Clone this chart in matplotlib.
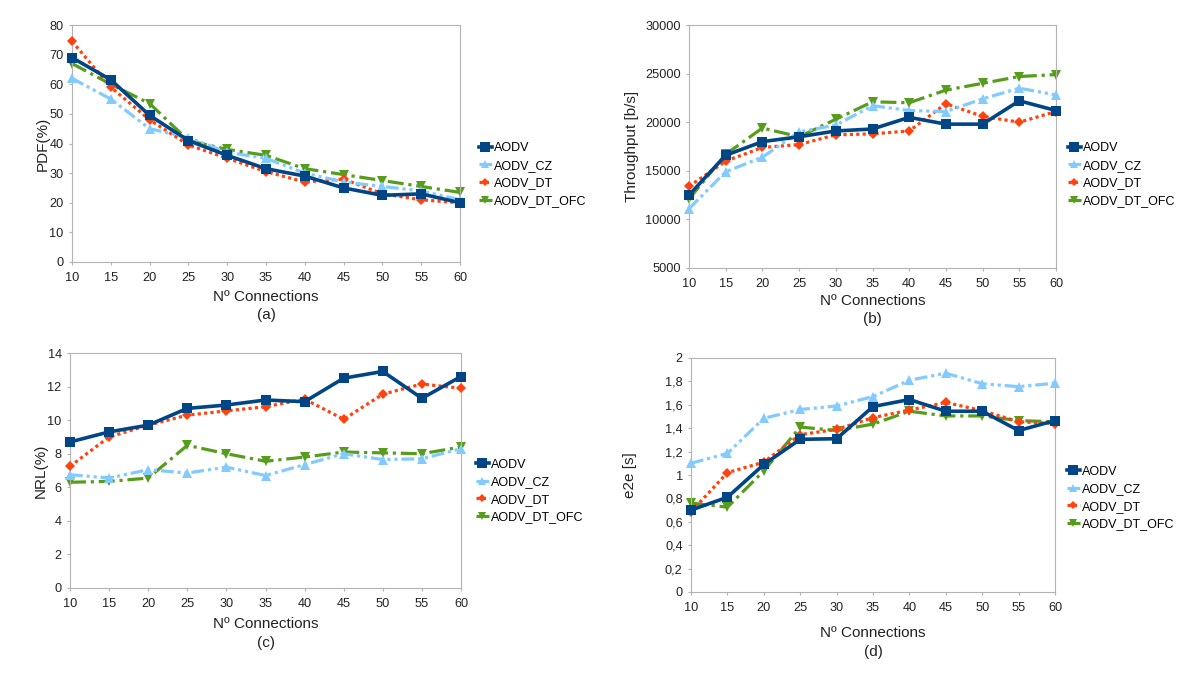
import matplotlib
matplotlib.use("Agg")
import matplotlib.pyplot as plt
from matplotlib.ticker import FuncFormatter

plt.rcParams['font.family'] = ['Liberation Sans', 'DejaVu Sans']

connections = [10, 15, 20, 25, 30, 35, 40, 45, 50, 55, 60]
series_names = ["AODV", "AODV_CZ", "AODV_DT", "AODV_DT_OFC"]

pdf_aodv = [69, 61.5, 49.5, 41, 36, 31.5, 29, 25, 22.5, 23, 20]
pdf_cz = [62, 55, 45, 42, 37, 35, 30, 27, 25.5, 24, 21]
pdf_dt = [74.5, 59, 48, 39.5, 35, 30.5, 27, 28, 23, 21, 20]
pdf_ofc = [67, 60, 53.5, 41, 38, 36, 31.5, 29.5, 27.5, 25.5, 23.5]

thr_aodv = [12500, 16600, 18000, 18500, 19100, 19300, 20500, 19800, 19800, 22200, 21200]
thr_cz = [11100, 14900, 16400, 19000, 19700, 21700, 21200, 21100, 22400, 23500, 22800]
thr_dt = [13400, 16000, 17400, 17700, 18700, 18800, 19100, 21900, 20600, 20000, 21100]
thr_ofc = [12100, 16700, 19400, 18500, 20300, 22100, 22000, 23300, 24000, 24700, 24900]

nrl_aodv = [8.7, 9.3, 9.7, 10.7, 10.9, 11.2, 11.1, 12.5, 12.9, 11.3, 12.6]
nrl_cz = [6.75, 6.55, 7.05, 6.85, 7.2, 6.7, 7.35, 8.0, 7.65, 7.7, 8.3]
nrl_dt = [7.25, 9.0, 9.7, 10.3, 10.55, 10.8, 11.25, 10.05, 11.55, 12.15, 11.9]
nrl_ofc = [6.3, 6.35, 6.55, 8.5, 8.0, 7.55, 7.8, 8.1, 8.05, 8.0, 8.4]

e2e_aodv = [0.70, 0.81, 1.09, 1.305, 1.31, 1.585, 1.645, 1.545, 1.545, 1.38, 1.465]
e2e_cz = [1.10, 1.185, 1.485, 1.56, 1.59, 1.67, 1.81, 1.87, 1.78, 1.755, 1.785]
e2e_dt = [0.685, 1.02, 1.11, 1.345, 1.39, 1.49, 1.555, 1.62, 1.55, 1.455, 1.44]
e2e_ofc = [0.76, 0.725, 1.035, 1.41, 1.38, 1.435, 1.545, 1.505, 1.505, 1.465, 1.455]

colors = ["#004586", "#83caff", "#ff420e", "#579d1c"]
markers = ["s", "^", "D", "v"]
msizes = [7.5, 6.5, 5, 7]
styles = ["-", (0, (4, 1.2, 1, 1.2, 1, 1.2)), (0, (1, 1)), (0, (5, 1.5, 1, 1.5))]
lws = [2.6, 2.3, 2.3, 2.3]

W, H = 1200, 678
fig = plt.figure(figsize=(12, 6.78), dpi=100)

def px_axes(l, r, t, b):
    return fig.add_axes([l / W, 1 - b / H, (r - l) / W, (b - t) / H])

panels = [
    dict(box=(72, 460, 25, 262), data=[pdf_aodv, pdf_cz, pdf_dt, pdf_ofc], ylim=(0, 80),
         yticks=list(range(0, 81, 10)), ylabel="PDF(%)", tag="(a)", xl_y=297, tag_y=315,
         leg=(479, 174.5), ylx=43, fmt=None),
    dict(box=(689, 1056, 25, 268), data=[thr_aodv, thr_cz, thr_dt, thr_ofc], ylim=(5000, 30000),
         yticks=list(range(5000, 30001, 5000)), ylabel="Throughput [b/s]", tag="(b)", xl_y=301, tag_y=319,
         leg=(1068, 174.5), ylx=632, fmt=None),
    dict(box=(70, 461, 353, 588), data=[nrl_aodv, nrl_cz, nrl_dt, nrl_ofc], ylim=(0, 14),
         yticks=list(range(0, 15, 2)), ylabel="NRL(%)", tag="(c)", xl_y=624, tag_y=643,
         leg=(476, 491), ylx=41, fmt=None),
    dict(box=(691, 1055, 358, 592), data=[e2e_aodv, e2e_cz, e2e_dt, e2e_ofc], ylim=(0, 2),
         yticks=[i * 0.2 for i in range(11)], ylabel="e2e [s]", tag="(d)", xl_y=633, tag_y=652,
         leg=(1067, 498), ylx=630, fmt="comma"),
]

for p in panels:
    l, r, t, b = p["box"]
    ax = px_axes(l, r, t, b)
    for i, vals in enumerate(p["data"]):
        ax.plot(connections, vals, color=colors[i], marker=markers[i], markersize=msizes[i],
                linestyle=styles[i], linewidth=lws[i], label=series_names[i],
                markeredgewidth=0, zorder=5 - i if i else 6, clip_on=False)
    ax.set_xlim(10, 60)
    ax.set_ylim(*p["ylim"])
    ax.set_xticks(connections)
    ax.set_yticks(p["yticks"])
    if p["fmt"] == "comma":
        ax.yaxis.set_major_formatter(FuncFormatter(lambda v, pos: ("%g" % round(v, 1)).replace(".", ",")))
    for s in ax.spines.values():
        s.set_color("#b3b3b3")
        s.set_linewidth(0.8)
    ax.tick_params(axis="both", direction="out", length=2.5, width=0.8, color="#b3b3b3",
                   labelsize=9.2, labelcolor="#222222")
    ax.tick_params(axis="y", pad=3.5)
    ax.tick_params(axis="x", pad=5)
    cx = (l + r) / 2 / W
    fig.text(cx, 1 - p["xl_y"] / H, "Nº Connections", ha="center", va="center", fontsize=11, color="#222222")
    fig.text(cx, 1 - p["tag_y"] / H, p["tag"], ha="center", va="center", fontsize=11, color="#222222")
    fig.text(p["ylx"] / W, 1 - (t + b) / 2 / H, p["ylabel"], ha="center", va="center", rotation=90,
             fontsize=11, color="#222222")
    lx, ly = p["leg"]
    ax.legend(loc="center left", bbox_to_anchor=(lx / W, 1 - ly / H),
              bbox_transform=fig.transFigure, frameon=False, fontsize=9, handlelength=1.0,
              handletextpad=0.2, labelspacing=0.45, borderaxespad=0, borderpad=0,
              markerscale=0.9)

fig.savefig("out.png", dpi=100, facecolor="white")
